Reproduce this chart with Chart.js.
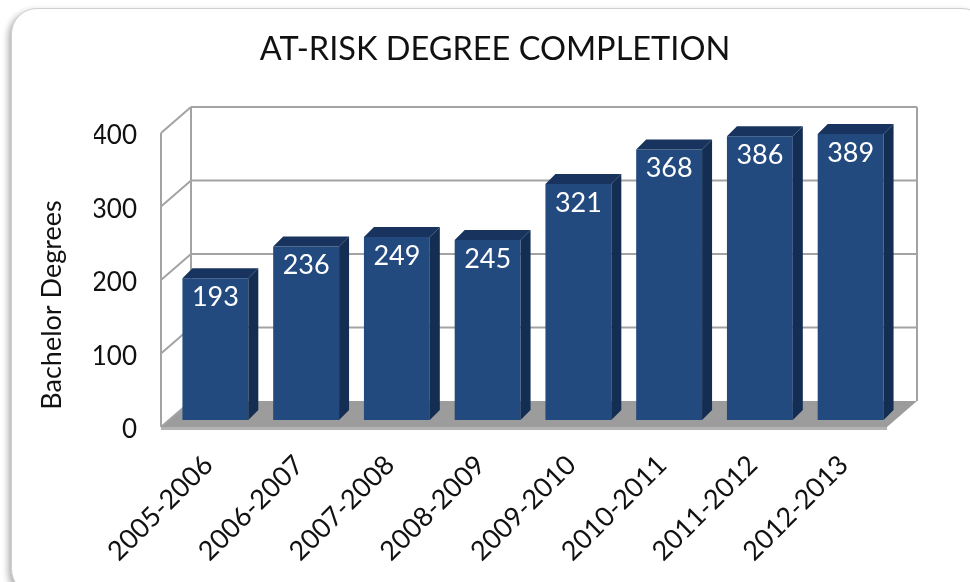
<!DOCTYPE html>
<html>
<head>
<meta charset="utf-8">
<script src="https://cdn.jsdelivr.net/npm/chart.js@4.4.1/dist/chart.umd.min.js"></script>
<style>
  html, body { margin: 0; padding: 0; background: #fff; }
  body { width: 970px; height: 582px; position: relative; overflow: hidden; }
  #panel {
    position: absolute; left: 11px; top: 8px; width: 975px; height: 585px;
    background: #fff; border: 1px solid #cfcfcf; border-radius: 26px;
    box-shadow: -3px 3px 6px rgba(0,0,0,0.3);
  }
  #wrap { position: absolute; left: 0; top: 0; width: 970px; height: 582px; }
</style>
</head>
<body>
<div id="panel"></div>
<div id="wrap"><canvas id="chart"></canvas></div>
<script>
// values
const years = ['2005-2006', '2006-2007', '2007-2008', '2008-2009', '2009-2010', '2010-2011', '2011-2012', '2012-2013'];
const degrees = [193, 236, 249, 245, 321, 368, 386, 389];
const yTicks = [0, 100, 200, 300, 400];

const FONT = 'Lato, "Open Sans", sans-serif';
const BACK = { dx: 21, dy: -19 };   // back wall offset from the bar plane
const FRONT = { dx: -9, dy: 7 };    // front edge offset
const DEPTH = 10;                   // bar depth

// walls, floor and gridlines behind the bars, 3D faces + labels on top
const box3d = {
  id: 'box3d',
  beforeDatasetsDraw(chart) {
    const { ctx, chartArea: ca, scales: { y } } = chart;
    const y0 = y.getPixelForValue(0);
    const yTop = y.getPixelForValue(yTicks[yTicks.length - 1]);
    ctx.save();
    // floor
    ctx.fillStyle = '#9c9c9c';
    ctx.beginPath();
    ctx.moveTo(ca.left + BACK.dx, y0 + BACK.dy);
    ctx.lineTo(ca.right + BACK.dx, y0 + BACK.dy);
    ctx.lineTo(ca.right + FRONT.dx, y0 + FRONT.dy);
    ctx.lineTo(ca.left + FRONT.dx, y0 + FRONT.dy);
    ctx.closePath();
    ctx.fill();
    ctx.fillStyle = '#b3b3b3';
    ctx.fillRect(ca.left + FRONT.dx, y0 + FRONT.dy, ca.right - ca.left, 3);

    ctx.strokeStyle = '#a3a3a3';
    ctx.lineWidth = 2;
    ctx.beginPath();
    yTicks.forEach(v => {
      const py = y.getPixelForValue(v);
      if (v > 0) {
        ctx.moveTo(ca.left + BACK.dx, py + BACK.dy);
        ctx.lineTo(ca.right + BACK.dx, py + BACK.dy);
      }
      ctx.moveTo(ca.left + FRONT.dx, py + FRONT.dy);
      ctx.lineTo(ca.left + BACK.dx, py + BACK.dy);
    });
    ctx.moveTo(ca.left + FRONT.dx, yTop + FRONT.dy);
    ctx.lineTo(ca.left + FRONT.dx, y0 + FRONT.dy);
    ctx.moveTo(ca.left + BACK.dx, yTop + BACK.dy);
    ctx.lineTo(ca.left + BACK.dx, y0 + BACK.dy);
    ctx.moveTo(ca.right + BACK.dx, yTop + BACK.dy);
    ctx.lineTo(ca.right + BACK.dx, y0 + BACK.dy);
    ctx.stroke();

    // y axis title
    ctx.translate(52, 305);
    ctx.rotate(-Math.PI / 2);
    ctx.fillStyle = '#111';
    ctx.font = '27px ' + FONT;
    ctx.textAlign = 'center';
    ctx.textBaseline = 'middle';
    ctx.fillText('Bachelor Degrees', 0, 0);
    ctx.restore();
  },
  afterDatasetsDraw(chart) {
    const { ctx } = chart;
    const meta = chart.getDatasetMeta(0);
    ctx.save();
    meta.data.forEach((bar, i) => {
      const l = bar.x - bar.width / 2, r = bar.x + bar.width / 2;
      const t = bar.y, b = bar.base;
      // top face
      ctx.fillStyle = '#18345e';
      ctx.beginPath();
      ctx.moveTo(l, t);
      ctx.lineTo(l + DEPTH, t - DEPTH);
      ctx.lineTo(r + DEPTH, t - DEPTH);
      ctx.lineTo(r, t);
      ctx.closePath();
      ctx.fill();
      // side face
      ctx.fillStyle = '#142d52';
      ctx.beginPath();
      ctx.moveTo(r, t);
      ctx.lineTo(r + DEPTH, t - DEPTH);
      ctx.lineTo(r + DEPTH, b - DEPTH);
      ctx.lineTo(r, b);
      ctx.closePath();
      ctx.fill();
      // value label
      ctx.fillStyle = '#fff';
      ctx.font = '27px ' + FONT;
      ctx.textAlign = 'center';
      ctx.textBaseline = 'middle';
      ctx.fillText(degrees[i], bar.x, t + 19);
    });
    ctx.restore();
  }
};

new Chart(document.getElementById('chart'), {
  type: 'bar',
  data: {
    labels: years,
    datasets: [{
      label: 'Bachelor Degrees',
      data: degrees,
      backgroundColor: '#234a7f',
      borderWidth: 0,
      barPercentage: 0.726,
      categoryPercentage: 1
    }]
  },
  options: {
    responsive: true,
    maintainAspectRatio: false,
    animation: false,
    layout: { padding: { left: 94, right: 74, top: 0, bottom: 0 } },
    plugins: {
      legend: { display: false },
      tooltip: { enabled: false },
      title: {
        display: true,
        text: 'AT-RISK DEGREE COMPLETION',
        color: '#111',
        font: { family: FONT, size: 32.5, weight: 'normal' },
        padding: { top: 30, bottom: 57 }
      }
    },
    scales: {
      x: {
        grid: { display: false, drawTicks: false },
        border: { display: false },
        ticks: {
          color: '#111',
          font: { family: FONT, size: 27 },
          maxRotation: 45,
          minRotation: 45,
          autoSkip: false,
          padding: 29,
          labelOffset: -7
        },
        afterFit(scale) { scale.height = 162; }
      },
      y: {
        min: 0,
        max: 400,
        grid: { display: false, drawTicks: false },
        border: { display: false },
        ticks: {
          stepSize: 100,
          color: '#111',
          font: { family: FONT, size: 26 },
          padding: 33,
          labelOffset: 10
        },
        afterFit(scale) { scale.width = 76; }
      }
    }
  },
  plugins: [box3d]
});
</script>
</body>
</html>
